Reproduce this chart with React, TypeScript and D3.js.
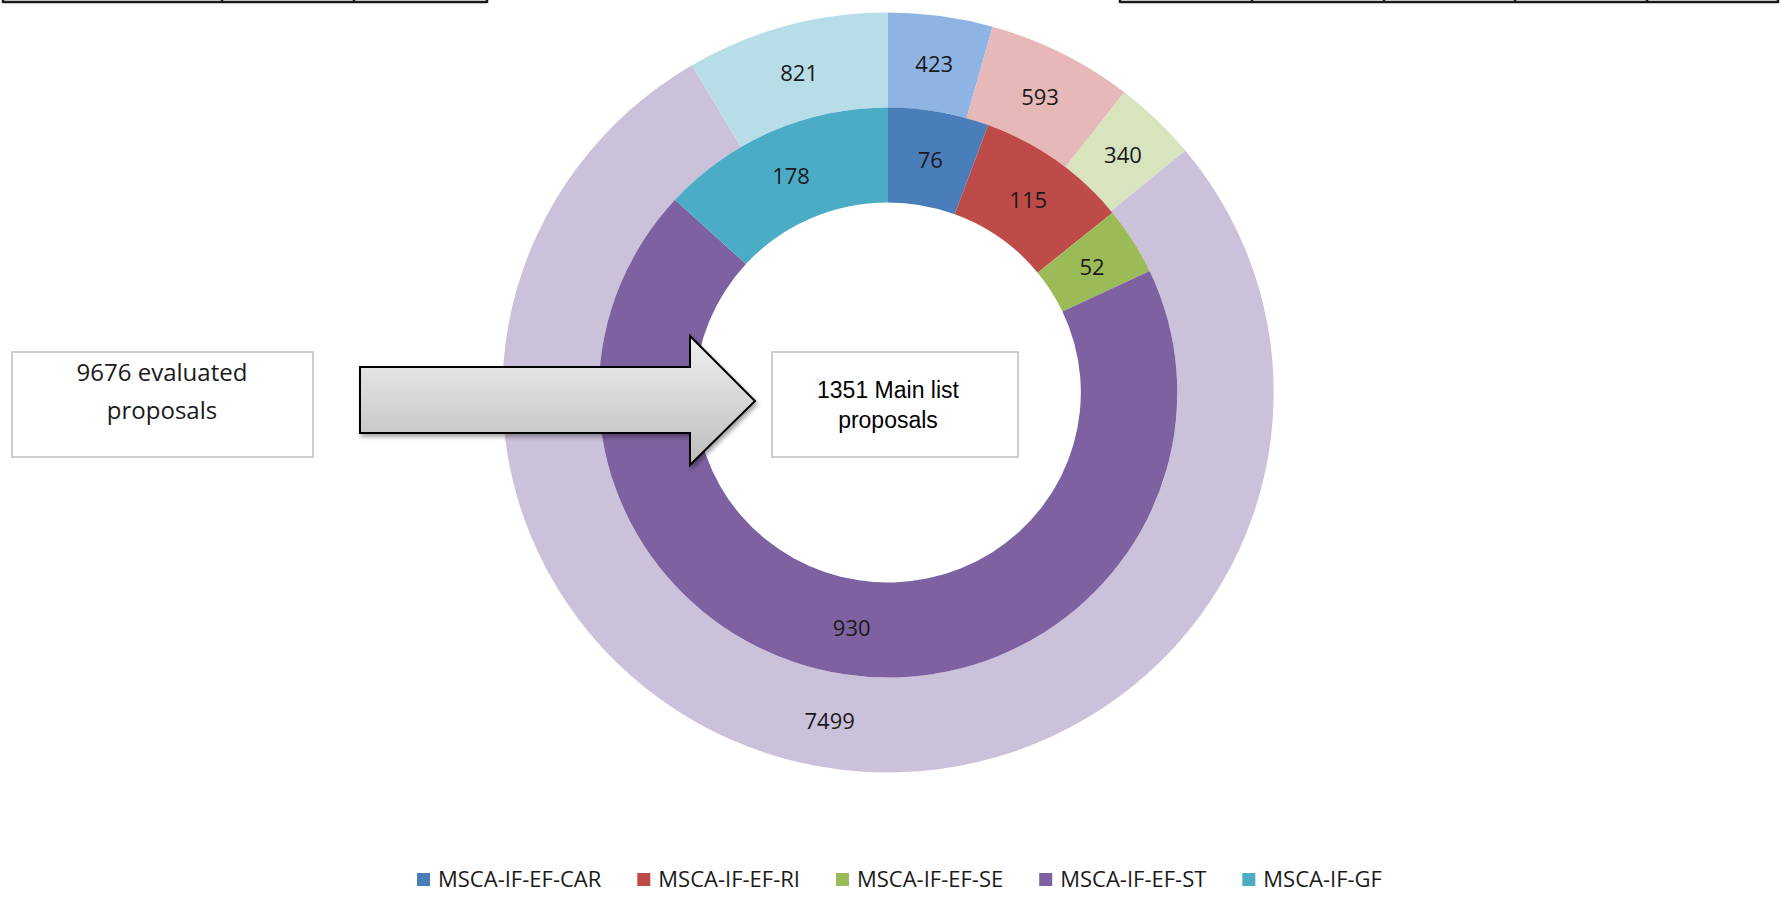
import React, {useEffect, useRef} from "react";
import * as d3 from "d3";

// proposals per call type
const categories = ["MSCA-IF-EF-CAR", "MSCA-IF-EF-RI", "MSCA-IF-EF-SE", "MSCA-IF-EF-ST", "MSCA-IF-GF"];
const mainList = [76, 115, 52, 930, 178]; // inner ring, 1351 total
const evaluated = [423, 593, 340, 7499, 821]; // outer ring, 9676 total
const innerColors = ["#4a7ebb", "#be4b48", "#9bbb59", "#7e61a0", "#4bacc6"];
const outerColors = ["#8eb4e3", "#e6b9b8", "#d7e4bd", "#cbc1da", "#b7dee8"];

const leftTableCols = [3, 222, 354, 487];
const rightTableCols = [1120, 1252, 1384, 1515, 1647, 1778];

const W = 1781;
const H = 912;

const App: React.FC = () => {
	const svgRef = useRef<SVGSVGElement>(null);

	useEffect(() => {
		const svg = d3.select(svgRef.current);
		svg.selectAll("*").remove();

		const cx = 888;
		const cy = 392.5;
		const sx = 1.015; // the picture is a touch wider than tall
		const rHole = 190;
		const rMid = 285;
		const rOuter = 380;

		const defs = svg.append("defs");
		const grad = defs
			.append("linearGradient")
			.attr("id", "arrowGrad")
			.attr("x1", 0)
			.attr("y1", 0)
			.attr("x2", 0)
			.attr("y2", 1);
		grad.append("stop").attr("offset", "0%").attr("stop-color", "#f0f0f0");
		grad.append("stop").attr("offset", "100%").attr("stop-color", "#bdbdbd");
		defs
			.append("filter")
			.attr("id", "shadow")
			.attr("x", "-10%")
			.attr("y", "-10%")
			.attr("width", "130%")
			.attr("height", "140%")
			.append("feDropShadow")
			.attr("dx", 2)
			.attr("dy", 3)
			.attr("stdDeviation", 2)
			.attr("flood-color", "#000")
			.attr("flood-opacity", 0.35);

		// cut-off table bottoms at the top edge
		const tables = svg.append("g").attr("fill", "none").attr("stroke", "#1a1a1a").attr("stroke-width", 2.5);
		[leftTableCols, rightTableCols].forEach((cols) => {
			tables
				.append("line")
				.attr("x1", cols[0])
				.attr("x2", cols[cols.length - 1])
				.attr("y1", 2)
				.attr("y2", 2);
			cols.forEach((x) => {
				tables.append("line").attr("x1", x).attr("x2", x).attr("y1", 0).attr("y2", 3);
			});
		});

		const pie = d3
			.pie<number>()
			.sort(null)
			.value((d) => d);

		const rings = [
			{data: evaluated, colors: outerColors, inner: rMid, outer: rOuter},
			{data: mainList, colors: innerColors, inner: rHole, outer: rMid},
		];

		const chart = svg.append("g").attr("transform", `translate(${cx},${cy}) scale(${sx},1)`);
		const labels = svg.append("g").attr("transform", `translate(${cx},${cy})`);

		rings.forEach((ring) => {
			const arc = d3.arc<d3.PieArcDatum<number>>().innerRadius(ring.inner).outerRadius(ring.outer);
			const arcs = pie(ring.data);
			chart
				.selectAll(null)
				.data(arcs)
				.enter()
				.append("path")
				.attr("d", arc)
				.attr("fill", (_, i) => ring.colors[i]);
			labels
				.selectAll(null)
				.data(arcs)
				.enter()
				.append("text")
				.attr("x", (d) => arc.centroid(d)[0] * sx)
				.attr("y", (d) => arc.centroid(d)[1])
				.attr("text-anchor", "middle")
				.attr("dominant-baseline", "central")
				.style("font-family", "'Open Sans', sans-serif")
				.style("font-size", "22px")
				.style("fill", "#1a1a1a")
				.text((d) => d.data);
		});

		// left box
		const lb = svg.append("g");
		lb.append("rect")
			.attr("x", 12)
			.attr("y", 352)
			.attr("width", 301)
			.attr("height", 105)
			.attr("fill", "#fff")
			.attr("stroke", "#bdbdbd")
			.attr("stroke-width", 1.5);
		lb.selectAll(null)
			.data(["9676 evaluated", "proposals"])
			.enter()
			.append("text")
			.attr("x", 162)
			.attr("y", (_, i) => 381 + i * 38)
			.attr("text-anchor", "middle")
			.style("font-family", "'Open Sans', sans-serif")
			.style("font-size", "24px")
			.style("fill", "#1a1a1a")
			.text((d) => d);

		// arrow
		svg.append("path")
			.attr("d", "M360,367 L690,367 L690,336 L755,401 L690,465 L690,433 L360,433 Z")
			.attr("fill", "url(#arrowGrad)")
			.attr("stroke", "#000")
			.attr("stroke-width", 2)
			.attr("stroke-linejoin", "miter")
			.attr("filter", "url(#shadow)");

		// centre box
		const cb = svg.append("g");
		cb.append("rect")
			.attr("x", 772)
			.attr("y", 352)
			.attr("width", 246)
			.attr("height", 105)
			.attr("fill", "#fff")
			.attr("stroke", "#bdbdbd")
			.attr("stroke-width", 1.5);
		cb.selectAll(null)
			.data(["1351 Main list", "proposals"])
			.enter()
			.append("text")
			.attr("x", cx)
			.attr("y", (_, i) => 398 + i * 30)
			.attr("text-anchor", "middle")
			.style("font-family", "'Liberation Sans', Arial, sans-serif")
			.style("font-size", "23px")
			.style("fill", "#000")
			.text((d) => d);

		// legend, laid out by measured text widths
		const legend = svg.append("g");
		const items = legend
			.selectAll(null)
			.data(categories)
			.enter()
			.append("g");
		items
			.append("rect")
			.attr("y", 873)
			.attr("width", 13)
			.attr("height", 13)
			.attr("fill", (_, i) => innerColors[i]);
		const texts = items
			.append("text")
			.attr("x", 21)
			.attr("y", 887)
			.style("font-family", "'Open Sans', sans-serif")
			.style("font-size", "22px")
			.style("fill", "#1a1a1a")
			.text((d) => d);
		const widths: number[] = [];
		texts.each(function () {
			widths.push((this as SVGTextElement).getComputedTextLength());
		});
		const gap = 36;
		const total = widths.reduce((s, w) => s + 21 + w, 0) + gap * (widths.length - 1);
		let x = 899.5 - total / 2;
		items.each(function (_, i) {
			d3.select(this).attr("transform", `translate(${x},0)`);
			x += 21 + widths[i] + gap;
		});
	}, []);

	return (
		<svg
			ref={svgRef}
			width={W}
			height={H}
			style={{position: "absolute", left: 0, top: 0, background: "#fff"}}
		/>
	);
};

export default App;
